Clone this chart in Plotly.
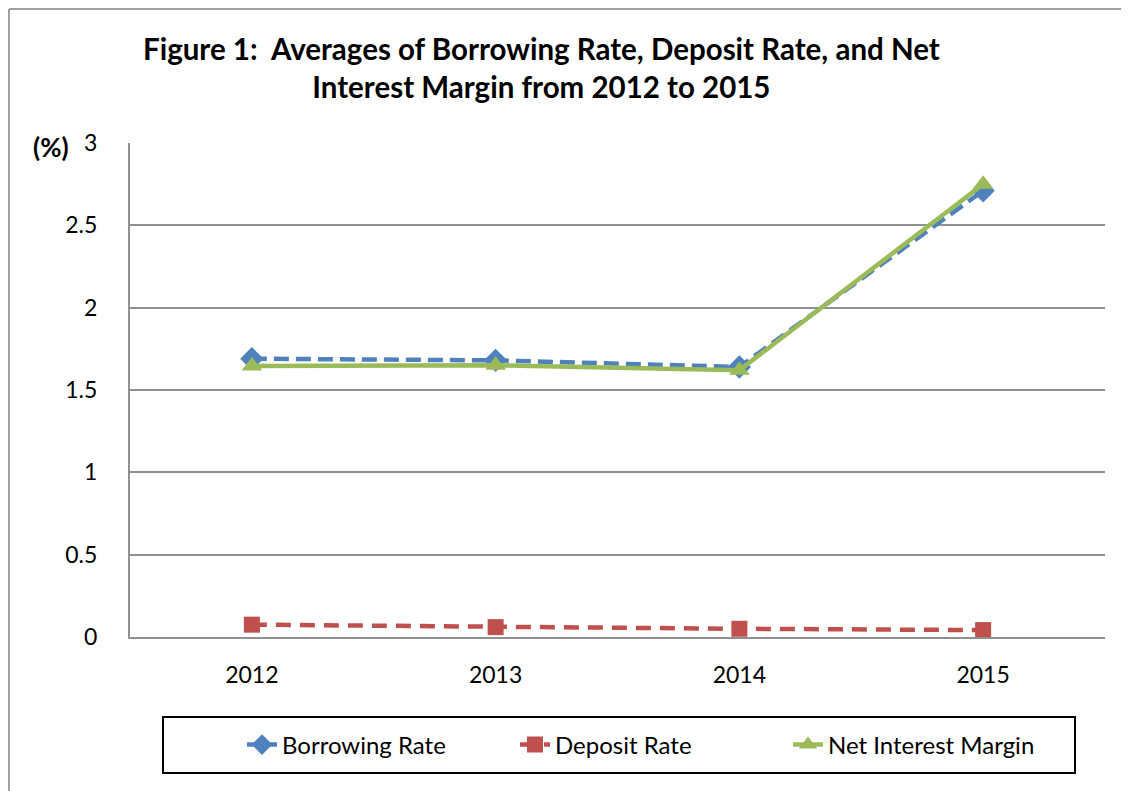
import plotly.graph_objects as go

years = ["2012", "2013", "2014", "2015"]
borrowing_rate = [1.69, 1.68, 1.64, 2.71]
deposit_rate = [0.075, 0.06, 0.05, 0.042]
net_interest_margin = [1.645, 1.65, 1.62, 2.75]
y_ticks = [0, 0.5, 1, 1.5, 2, 2.5, 3]
y_tick_labels = ["0", "0.5", "1", "1.5", "2", "2.5", "3"]

OFF = 8  # default page body margin
W, H = 1129 - OFF, 791 - OFF
L, R, T, B = 130 - OFF, 24, 143 - OFF, 154
pw, ph = W - L - R, H - T - B

def px_x(x):
    return (x - OFF - L) / pw

def px_y(y):
    return (H - B - (y - OFF)) / ph

FONT = "Lato"

fig = go.Figure()
fig.add_trace(go.Scatter(
    x=years, y=borrowing_rate, name="Borrowing Rate", mode="lines+markers",
    line=dict(color="#4F81BD", width=4.5, dash="15px,7px"),
    marker=dict(symbol="diamond", size=18, color="#4F81BD"),
))
fig.add_trace(go.Scatter(
    x=years, y=deposit_rate, name="Deposit Rate", mode="lines+markers",
    line=dict(color="#C0504D", width=4.5, dash="15px,9px"),
    marker=dict(symbol="square", size=16, color="#C0504D"),
))
fig.add_trace(go.Scatter(
    x=years, y=net_interest_margin, name="Net Interest Margin", mode="lines+markers",
    line=dict(color="#9BBB59", width=4.5),
    marker=dict(symbol="triangle-up", size=18, color="#9BBB59"),
))

fig.update_layout(
    width=W, height=H,
    margin=dict(l=L, r=R, t=T, b=B, autoexpand=False),
    paper_bgcolor="white", plot_bgcolor="white",
    font=dict(family=FONT, size=23, color="black"),
    showlegend=True,
    legend=dict(
        orientation="h", x=px_x(242), xanchor="left", y=px_y(745), yanchor="middle",
        font=dict(family=FONT, size=24, color="black"),
        bgcolor="rgba(0,0,0,0)", borderwidth=0,
        entrywidth=228, entrywidthmode="pixels",
    ),
    xaxis=dict(
        type="category", range=[-0.5, 3.5], showgrid=False,
        showline=True, linecolor="#909090", linewidth=2, ticks="",
        ticklabelstandoff=16,
        tickfont=dict(family=FONT, size=23, color="black"), fixedrange=True,
    ),
    yaxis=dict(
        range=[0, 3], tickvals=y_ticks, ticktext=y_tick_labels,
        showgrid=True, gridcolor="#909090", gridwidth=1.5,
        showline=True, linecolor="#909090", linewidth=2, ticks="",
        zeroline=False, ticklabelstandoff=26,
        tickfont=dict(family=FONT, size=23, color="black"), fixedrange=True,
    ),
)

fig.add_annotation(
    text="<b>Figure 1:  Averages of Borrowing Rate, Deposit Rate, and Net<br>Interest Margin from 2012 to 2015</b>",
    xref="paper", yref="paper", x=px_x(541), y=px_y(67),
    xanchor="center", yanchor="middle", showarrow=False,
    font=dict(family=FONT, size=29.5, color="black"), align="center",
)
fig.add_annotation(
    text="<b>(%)</b>", xref="paper", yref="paper", x=px_x(51), y=px_y(147),
    xanchor="center", yanchor="middle", showarrow=False,
    font=dict(family=FONT, size=26, color="black"),
)

# legend box
fig.add_shape(type="rect", xref="paper", yref="paper",
              x0=px_x(163), x1=px_x(1075), y0=px_y(773), y1=px_y(717),
              line=dict(color="black", width=2), fillcolor="rgba(0,0,0,0)", layer="below")
# outer chart border (top and left edges, as close as the page allows)
fig.add_shape(type="line", xref="paper", yref="paper",
              x0=px_x(9), x1=px_x(1129), y0=px_y(9), y1=px_y(9),
              line=dict(color="#A0A0A0", width=2))
fig.add_shape(type="line", xref="paper", yref="paper",
              x0=px_x(9), x1=px_x(9), y0=px_y(9), y1=px_y(791),
              line=dict(color="#A0A0A0", width=2))

fig.write_html("out.html")
